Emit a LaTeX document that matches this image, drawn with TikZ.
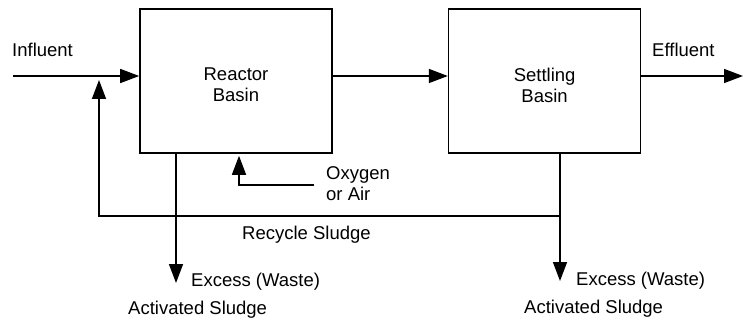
\documentclass[tikz,border=0pt]{standalone}
\usepackage{fontspec}
\setmainfont{Liberation Sans}
\usetikzlibrary{arrows.meta, positioning}

\begin{document}
\begin{tikzpicture}[
    x=1pt, y=-1pt,
    font=\fontsize{18.5}{21}\selectfont,
    basin/.style={rectangle, draw, line width=1.6pt, minimum width=192pt, minimum height=144pt},
    basinname/.style={align=center, inner sep=0pt, anchor=north},
    lbl/.style={inner sep=0pt, anchor=base west},
    pipe/.style={line width=1.4pt},
    arrow/.style={-{Triangle[length=19pt, width=14pt]}, line width=1.5pt}
]
\useasboundingbox (0,0) rectangle (744,323);

\node[basin] (reactor) at (236,81) {};
\node[basin, right=115pt of reactor] (settling) {};
\node[basinname] (reactorname) at ([yshift=13pt]reactor.center) {Reactor\\Basin};
\node[basinname] (settlingname) at ([yshift=13pt]settling.center) {Settling\\Basin};

\node[lbl] (influent) at (12,57) {Influent};
\node[lbl] (effluent) at (652,57) {Effluent};
\node[lbl] (recycle) at (242,239) {Recycle Sludge};
\node[anchor=north west, inner sep=0pt, align=left] (oxygen) at (326,166) {Oxygen\\or Air};
\node[lbl] (excessR) at (191,286) {Excess (Waste)};
\node[lbl] (sludgeR) at (128,314) {Activated Sludge};
\node[lbl] (excessS) at (576,285) {Excess (Waste)};
\node[lbl] (sludgeS) at (524,313) {Activated Sludge};

\coordinate (in) at (13,76);
\coordinate (out) at (743,76);
\coordinate (air) at (314,185);
\coordinate (airbend) at (239,185);
\coordinate (split) at (560,216);
\coordinate (back) at (99,216);
\coordinate (wasteR) at (176,283);
\coordinate (wasteS) at (560,281);

\draw[arrow] (in) -- (in -| reactor.west);
\draw[arrow] (in -| reactor.east) -- (in -| settling.west);
\draw[arrow] (in -| settling.east) -- (out);
\draw[arrow] (reactor.south -| wasteR) -- (wasteR);
\draw[arrow] (air) -- (airbend) -- ([yshift=-2pt]reactor.south -| airbend);
\draw[arrow] (settling.south -| split) -- (wasteS);
\draw[arrow] (split) -- (back) -- ([yshift=-4pt]back |- in);

\end{tikzpicture}
\end{document}
